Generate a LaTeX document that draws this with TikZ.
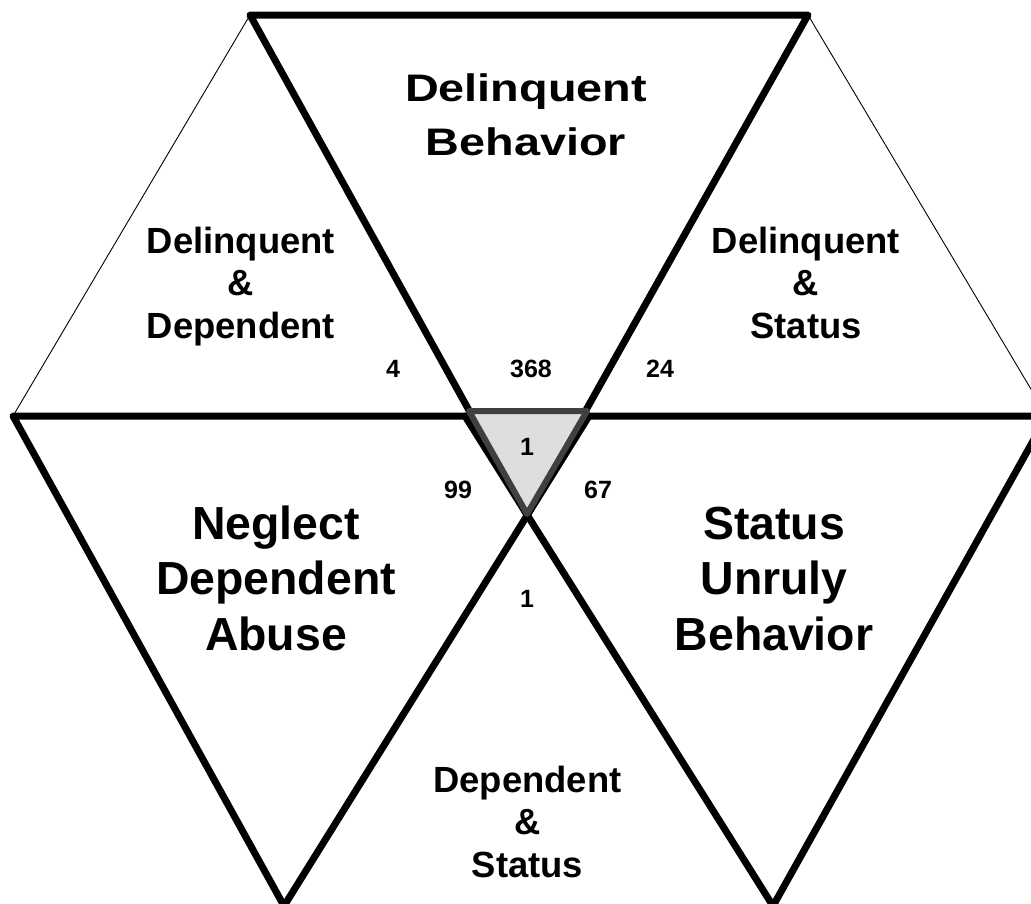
\documentclass[tikz,border=0pt]{standalone}
\usepackage{fontspec}
\setmainfont{Liberation Sans}
\newcommand\tlines[1]{\begin{tabular}[t]{@{}c@{}}#1\end{tabular}}
\begin{document}
\begin{tikzpicture}[x=1pt,y=-1pt,
  tri/.style={draw=black,line width=7pt,line join=round},
  thinline/.style={draw=black,line width=0.9pt},
  core/.style={draw=black!75,fill=black!13,line width=6pt,line join=round},
  toplabel/.style={font=\bfseries\fontsize{46.8}{65}\selectfont,inner sep=0pt,anchor=base},
  biglabel/.style={font=\bfseries\fontsize{46.4}{55.5}\selectfont,inner sep=0pt,anchor=base},
  midlabel/.style={font=\bfseries\fontsize{36.4}{42.5}\selectfont,inner sep=0pt,anchor=base},
  numlabel/.style={font=\bfseries\fontsize{25}{30}\selectfont,inner sep=0pt,anchor=base}]
\useasboundingbox (0,0) rectangle (1031,903);
\clip (0,0) rectangle (1031,903);
% vertices
\coordinate (T1) at (250,15);
\coordinate (T2) at (808,15);
\coordinate (C)  at (527,515);
\coordinate (L1) at (13,416);
\coordinate (L2) at (589,416);
\coordinate (LB) at (284,906);
\coordinate (R1) at (465,416);
\coordinate (R2) at (1047,416);
\coordinate (RB) at (773,906);
\coordinate (G1) at (469,411);
\coordinate (G2) at (587,411);
\coordinate (G3) at (527,514);
% thin outer edges
\draw[thinline] (T1) -- (L1);
\draw[thinline] (T2) -- (R2);
% thick triangles
\draw[tri] (T1) -- (T2) -- (C) -- cycle;
\draw[tri] (L1) -- (L2) -- (LB) -- cycle;
\draw[tri] (R1) -- (R2) -- (RB) -- cycle;
% central triangle
\draw[core] (G1) -- (G2) -- (G3) -- cycle;
% labels
\node[toplabel] (delbeh) at (526,101.7) {\scalebox{1}[0.82]{\tlines{Delinquent\\Behavior}}};
\node[midlabel] (deldep) at (241,253) {\tlines{Delinquent\\\&\\Dependent}};
\node[midlabel] (delsta) at (806,253) {\tlines{Delinquent\\\&\\Status}};
\node[biglabel] (negl) at (276,539) {\tlines{Neglect\\Dependent\\Abuse}};
\node[biglabel] (stat) at (774,539) {\tlines{Status\\Unruly\\Behavior}};
\node[midlabel] (depsta) at (527.5,792) {\tlines{Dependent\\\&\\Status}};
% numbers
\node[numlabel] (n4) at (393,377) {4};
\node[numlabel] (n368) at (531,377) {368};
\node[numlabel] (n24) at (660,377) {24};
\node[numlabel] (n99) at (458,498) {99};
\node[numlabel] (n67) at (598,498) {67};
\node[numlabel] (n1a) at (527,455) {1};
\node[numlabel] (n1b) at (527,607) {1};
\end{tikzpicture}
\end{document}
